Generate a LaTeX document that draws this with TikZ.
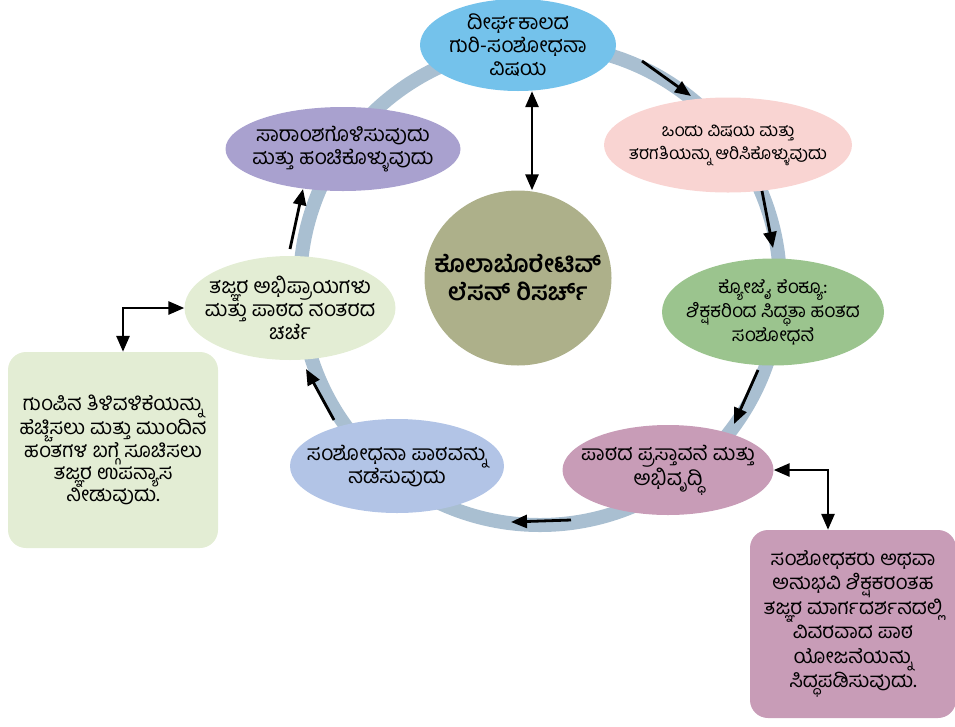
\documentclass[tikz,border=0pt]{standalone}
\usepackage{fontspec}
\usepackage{xcolor}
\usetikzlibrary{shapes.geometric, arrows.meta}
\usetikzlibrary{arrows.meta, positioning}
\newfontfamily\kn[Script=Kannada]{Hind Mysuru}
\definecolor{sky1}{RGB}{116,194,235}
\definecolor{pink1}{RGB}{249,212,210}
\definecolor{grn1}{RGB}{155,196,142}
\definecolor{mauve1}{RGB}{200,156,183}
\definecolor{blu1}{RGB}{178,196,230}
\definecolor{lgrn1}{RGB}{227,237,212}
\definecolor{lav1}{RGB}{169,161,207}
\definecolor{olive1}{RGB}{173,176,138}
\definecolor{ring1}{RGB}{169,191,209}
\tikzstyle{stage} = [ellipse, draw=none, inner xsep=-60pt, inner ysep=-30pt, align=center,
    font=\kn\fontsize{21}{23}\selectfont]
\tikzstyle{note} = [rectangle, rounded corners=18pt, draw=none, inner sep=0pt, align=center,
    font=\kn\fontsize{20.5}{23.5}\selectfont]
\tikzstyle{hub} = [ellipse, draw=none, inner xsep=-60pt, inner ysep=-30pt, align=center, fill=olive1,
    font=\kn\bfseries\fontsize{24}{28}\selectfont]
\tikzstyle{ring} = [line width=14pt, draw=ring1]
\tikzstyle{arrow} = [line width=2.8pt, -{Triangle[length=16pt, width=13pt]}]
\tikzstyle{dblarrow} = [line width=2.8pt, {Triangle[length=16pt, width=13pt]}-{Triangle[length=16pt, width=13pt]}]

\begin{document}
\begin{tikzpicture}[x=1pt, y=-1pt]
    \useasboundingbox (0,0) rectangle (955,726);
    % Cycle ring behind the stages
    \draw [ring] (540,285) circle [radius=240pt];

    \node (hub) [hub, minimum width=187pt, minimum height=175pt] at (518,278) {ಕೊಲಾಬೊರೇಟಿವ್\\ಲೆಸನ್ ರಿಸರ್ಚ್};
    \node (goal) [stage, fill=sky1, minimum width=196pt, minimum height=92pt] at (518,45) {ದೀರ್ಘಕಾಲದ\\ಗುರಿ-ಸಂಶೋಧನಾ\\ವಿಷಯ};
    \node (choose) [stage, fill=pink1, minimum width=248pt, minimum height=95pt,
        font=\kn\fontsize{17.5}{23}\selectfont] at (728,145) {ಒಂದು ವಿಷಯ ಮತ್ತು\\ತರಗತಿಯನ್ನು ಆರಿಸಿಕೊಳ್ಳುವುದು};
    \node (kyozai) [stage, fill=grn1, minimum width=222pt, minimum height=107pt,
        font=\kn\fontsize{19}{24}\selectfont] at (773,312) {ಕ್ಯೋಜೈ ಕೆಂಕ್ಯೂ:\\ಶಿಕ್ಷಕರಿಂದ ಸಿದ್ಧತಾ ಹಂತದ\\ಸಂಶೋಧನೆ};
    \node (proposal) [stage, fill=mauve1, minimum width=211pt, minimum height=90pt] at (668,470) {ಪಾಠದ ಪ್ರಸ್ತಾವನೆ ಮತ್ತು\\ಅಭಿವೃದ್ಧಿ};
    \node (lesson) [stage, fill=blu1, minimum width=214pt, minimum height=94pt] at (397,466) {ಸಂಶೋಧನಾ ಪಾಠವನ್ನು\\ನಡೆಸುವುದು};
    \node (discuss) [stage, fill=lgrn1, minimum width=211pt, minimum height=104pt] at (290,308) {ತಜ್ಞರ ಅಭಿಪ್ರಾಯಗಳು\\ಮತ್ತು ಪಾಠದ ನಂತರದ\\ಚರ್ಚೆ};
    \node (share) [stage, fill=lav1, minimum width=235pt, minimum height=84pt] at (343,149) {ಸಾರಾಂಶಗೊಳಿಸುವುದು\\ಮತ್ತು ಹಂಚಿಕೊಳ್ಳುವುದು};

    \node (lecture) [note, fill=lgrn1, minimum width=210pt, minimum height=196pt,
        font=\kn\fontsize{20.5}{22}\selectfont] at (113,450) {ಗುಂಪಿನ ತಿಳಿವಳಿಕೆಯನ್ನು\\ಹೆಚ್ಚಿಸಲು ಮತ್ತು ಮುಂದಿನ\\ಹಂತಗಳ ಬಗ್ಗೆ ಸೂಚಿಸಲು\\ತಜ್ಞರ ಉಪನ್ಯಾಸ\\ನೀಡುವುದು.};
    \node (plan) [note, fill=mauve1, minimum width=206pt, minimum height=188pt,
        font=\kn\fontsize{20.5}{24.5}\selectfont] at (853,624) {ಸಂಶೋಧಕರು ಅಥವಾ\\ಅನುಭವಿ ಶಿಕ್ಷಕರಂತಹ\\ತಜ್ಞರ ಮಾರ್ಗದರ್ಶನದಲ್ಲಿ\\ವಿವರವಾದ ಪಾಠ\\ಯೋಜನೆಯನ್ನು\\ಸಿದ್ಧಪಡಿಸುವುದು.};

    % Arrow ends on the ring
    \coordinate (a1) at (642,61);  \coordinate (b1) at (691,96);
    \coordinate (a2) at (762,191); \coordinate (b2) at (773,248);
    \coordinate (a3) at (758,370); \coordinate (b3) at (734,424);
    \coordinate (a4) at (571,520); \coordinate (b4) at (511,522);
    \coordinate (a5) at (334,420); \coordinate (b5) at (306,369);
    \coordinate (a6) at (290,249); \coordinate (b6) at (303,189);

    % Arrows
    \draw [arrow] (a1) -- (b1);
    \draw [arrow] (a2) -- (b2);
    \draw [arrow] (a3) -- (b3);
    \draw [arrow] (a4) -- (b4);
    \draw [arrow] (a5) -- (b5);
    \draw [arrow] (a6) -- (b6);
    \draw [dblarrow] (goal.south -| 532,0) -- (hub.north -| 532,0);
    \draw [dblarrow] ([xshift=10pt]lecture.north) |- (discuss.west);
    \draw [dblarrow] ([xshift=-25pt]plan.north) |- (proposal.east);
\end{tikzpicture}
\end{document}
